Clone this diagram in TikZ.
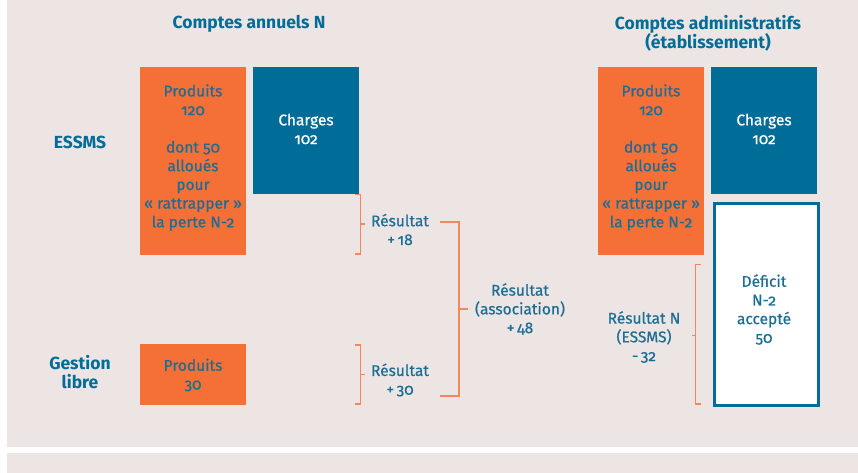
\documentclass[tikz,border=0pt]{standalone}
\usepackage{fontspec}
\setmainfont{Fira Sans}[Numbers=OldStyle]
\newfontfamily\bodyfont{Fira Sans}[Numbers=OldStyle, FakeBold=0.6]
\definecolor{bg}{HTML}{EDE5E4}
\definecolor{orng}{HTML}{F47037}
\definecolor{blu}{HTML}{006C98}
\definecolor{txtblu}{HTML}{1A6E94}
\definecolor{brkc}{HTML}{F4875C}
\begin{document}
\begin{tikzpicture}[x=1pt,y=-1pt,
  txt/.style={text=txtblu, font=\bodyfont\fontsize{15.5}{18.7}\selectfont, align=center, inner sep=0},
  wtxt/.style={txt, text=white},
  ttl/.style={text=blu, font=\fontsize{17.5}{19}\selectfont\bfseries, align=center, inner sep=0},
  obox/.style={fill=orng, draw=none, inner sep=0, anchor=north west},
  bbox/.style={fill=blu, draw=none, inner sep=0, anchor=north west},
  dbox/.style={fill=white, draw=blu, line width=3pt, inner sep=0, anchor=north west},
  brkline/.style={draw=brkc, line width=1.5pt}]
\useasboundingbox (0,0) rectangle (858,473);
\fill[white] (0,0) rectangle (858,473);
\fill[bg] (7,0) rectangle (858,447);
\fill[bg] (7,453) rectangle (858,473);

% titles
\node[ttl] (t1) at (249,24) {Comptes annuels N};
\node[ttl] (t2) at (708,33.5) {Comptes administratifs\\(établissement)};
\node[ttl] (essms) at (80,142) {ESSMS};
\node[ttl] (gl) at (80,372.5) {Gestion\\libre};

% left boxes
\node[obox, minimum width=106pt, minimum height=188pt] (p1) at (140,67) {};
\node[txt] (p1t) at (193,157.5) {Produits\\120\\[18.7pt]dont 50\\alloués\\pour\\« rattrapper »\\la perte N-2};
\node[bbox, minimum width=106pt, minimum height=127pt] (c1) at (253,67) {};
\node[wtxt] (c1t) at (306,129) {Charges\\102};
\node[obox, minimum width=106pt, minimum height=61pt] (p2) at (140,344) {};
\node[txt] (p2t) at (193,375) {Produits\\30};

% right boxes
\node[obox, minimum width=106pt, minimum height=188pt] (p3) at (598,67) {};
\node[txt] (p3t) at (651,157.5) {Produits\\120\\[18.7pt]dont 50\\alloués\\pour\\« rattrapper »\\la perte N-2};
\node[bbox, minimum width=106pt, minimum height=127pt] (c3) at (711,67) {};
\node[wtxt] (c3t) at (764,129) {Charges\\102};
\node[dbox, minimum width=104pt, minimum height=202pt] (d3) at (712.5,201.5) {};
\node[txt] (d3t) at (764,309.5) {Déficit\\N-2\\accepté\\50};

% brackets
\coordinate (b1a) at (355,194.5);
\coordinate (b1b) at (355,254);
\draw[brkline] (b1a) -| (360.5,254) -- (b1b);
\draw[brkline] (360.5,224) -- (364.5,224);
\node[txt] (r1) at (400,229.5) {Résultat\\+\,18};

\coordinate (b2a) at (355,345);
\coordinate (b2b) at (355,404);
\draw[brkline] (b2a) -| (360.5,404) -- (b2b);
\draw[brkline] (360.5,374.5) -- (364.5,374.5);
\node[txt] (r2) at (400,380) {Résultat\\+\,30};

\coordinate (b3a) at (440,222);
\coordinate (b3b) at (440,396);
\draw[brkline] (b3a) -| (459,396) -- (b3b);
\draw[brkline] (459,309) -- (468,309);
\node[txt] (r3) at (520,309) {Résultat\\(association)\\+\,48};

\coordinate (b4a) at (701,264.5);
\coordinate (b4b) at (701,404);
\draw[brkline] (b4a) -| (695.5,404) -- (b4b);
\draw[brkline] (695.5,335.5) -- (691.5,335.5);
\node[txt] (r4) at (644,337) {Résultat N\\(ESSMS)\\-\,32};
\end{tikzpicture}
\end{document}
